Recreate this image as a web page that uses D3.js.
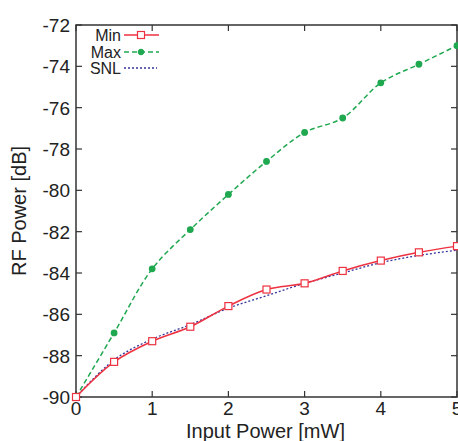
<!DOCTYPE html>
<html>
<head>
<meta charset="utf-8">
<script src="https://cdn.jsdelivr.net/npm/d3@7"></script>
<style>
  body { margin: 0; background: #fff; }
  svg { display: block; font-family: "Liberation Sans", Arial, sans-serif; }
</style>
</head>
<body>
<svg id="chart" width="458" height="441"></svg>
<script>
'use strict';

// data
const inputPower = [0, 0.5, 1, 1.5, 2, 2.5, 3, 3.5, 4, 4.5, 5];
const minPower = [-90, -88.3, -87.3, -86.6, -85.6, -84.8, -84.5, -83.9, -83.4, -83.0, -82.7];
const maxPower = [-90, -86.9, -83.8, -81.9, -80.2, -78.6, -77.2, -76.5, -74.8, -73.9, -73.0];
const snlPower = [-90, -88.2, -87.2, -86.5, -85.7, -85.1, -84.5, -84.0, -83.5, -83.15, -82.9];
const xTicks = [0, 1, 2, 3, 4, 5];
const yTicks = [-90, -88, -86, -84, -82, -80, -78, -76, -74, -72];

const svg = d3.select('#chart');
const mLeft = 76, mRight = 457, mTop = 25, mBottom = 397;

const x = d3.scaleLinear().domain([0, 5]).range([mLeft, mRight]);
const y = d3.scaleLinear().domain([-90, -72]).range([mBottom, mTop]);

const axisColor = '#333';
const tickLen = 6;

// frame
svg.append('rect')
  .attr('x', mLeft).attr('y', mTop)
  .attr('width', mRight - mLeft).attr('height', mBottom - mTop)
  .attr('fill', 'none').attr('stroke', axisColor).attr('stroke-width', 1.5);

// ticks, all inward on four sides
let g = svg.append('g').attr('stroke', axisColor).attr('stroke-width', 1.2);
xTicks.forEach(function (t) {
  g.append('line').attr('x1', x(t)).attr('x2', x(t)).attr('y1', mBottom).attr('y2', mBottom - tickLen);
  g.append('line').attr('x1', x(t)).attr('x2', x(t)).attr('y1', mTop).attr('y2', mTop + tickLen);
});
yTicks.forEach(function (t) {
  g.append('line').attr('x1', mLeft).attr('x2', mLeft + tickLen).attr('y1', y(t)).attr('y2', y(t));
  g.append('line').attr('x1', mRight).attr('x2', mRight - tickLen).attr('y1', y(t)).attr('y2', y(t));
});

// tick labels (the last x label sits on the page edge, as in the original)
svg.append('g').selectAll('text').data(xTicks).join('text')
  .attr('x', d => x(d)).attr('y', 415)
  .attr('text-anchor', 'middle').attr('font-size', 19).attr('fill', '#222')
  .text(d => d);
svg.append('g').selectAll('text').data(yTicks).join('text')
  .attr('x', 70).attr('y', d => y(d)).attr('dy', '0.36em')
  .attr('text-anchor', 'end').attr('font-size', 19).attr('fill', '#222')
  .text(d => d);

// axis titles
svg.append('text')
  .attr('x', (mLeft + mRight) / 2 - 1).attr('y', 438)
  .attr('text-anchor', 'middle').attr('font-size', 20).attr('fill', '#222')
  .text('Input Power [mW]');
svg.append('text')
  .attr('transform', 'translate(26,211) rotate(-90)')
  .attr('text-anchor', 'middle').attr('font-size', 20).attr('fill', '#222')
  .text('RF Power [dB]');

const red = '#ee3140', green = '#1fa84f', blue = '#34349a';

const line = d3.line()
  .x(d => x(d[0])).y(d => y(d[1]))
  .curve(d3.curveCatmullRom.alpha(0.5));

const pts = function (vals) { return inputPower.map((p, i) => [p, vals[i]]); };

// SNL
svg.append('path').datum(pts(snlPower))
  .attr('d', line).attr('fill', 'none')
  .attr('stroke', blue).attr('stroke-width', 1.3).attr('stroke-dasharray', '2,2');

// Max
svg.append('path').datum(pts(maxPower))
  .attr('d', line).attr('fill', 'none')
  .attr('stroke', green).attr('stroke-width', 1.5).attr('stroke-dasharray', '5,3');
svg.append('g').selectAll('circle').data(pts(maxPower)).join('circle')
  .attr('cx', d => x(d[0])).attr('cy', d => y(d[1])).attr('r', 2.8)
  .attr('fill', green).attr('stroke', green).attr('stroke-width', 1.2);

// Min
svg.append('path').datum(pts(minPower))
  .attr('d', line).attr('fill', 'none')
  .attr('stroke', red).attr('stroke-width', 1.5);
svg.append('g').selectAll('rect').data(pts(minPower)).join('rect')
  .attr('x', d => x(d[0]) - 3.5).attr('y', d => y(d[1]) - 3.5)
  .attr('width', 7).attr('height', 7)
  .attr('fill', '#fff').attr('stroke', red).attr('stroke-width', 1.2);

// legend
const legend = svg.append('g');
const rows = [
  { name: 'Min', color: red, dash: null, mark: 'square', y: 35 },
  { name: 'Max', color: green, dash: '5,3', mark: 'circle', y: 52 },
  { name: 'SNL', color: blue, dash: '2,2', mark: null, y: 68 }
];
rows.forEach(function (r) {
  legend.append('text')
    .attr('x', 121).attr('y', r.y).attr('dy', '0.36em')
    .attr('text-anchor', 'end').attr('font-size', 16).attr('fill', '#222')
    .text(r.name);
  legend.append('line')
    .attr('x1', 124).attr('x2', r.mark ? 159 : 157).attr('y1', r.y).attr('y2', r.y)
    .attr('stroke', r.color).attr('stroke-width', r.dash === '2,2' ? 1.3 : 1.5)
    .attr('stroke-dasharray', r.dash);
  if (r.mark === 'square')
    legend.append('rect').attr('x', 141 - 3.5).attr('y', r.y - 3.5).attr('width', 7).attr('height', 7)
      .attr('fill', '#fff').attr('stroke', r.color).attr('stroke-width', 1.2);
  if (r.mark === 'circle')
    legend.append('circle').attr('cx', 141).attr('cy', r.y).attr('r', 2.8)
      .attr('fill', r.color).attr('stroke', r.color);
});
</script>
</body>
</html>
